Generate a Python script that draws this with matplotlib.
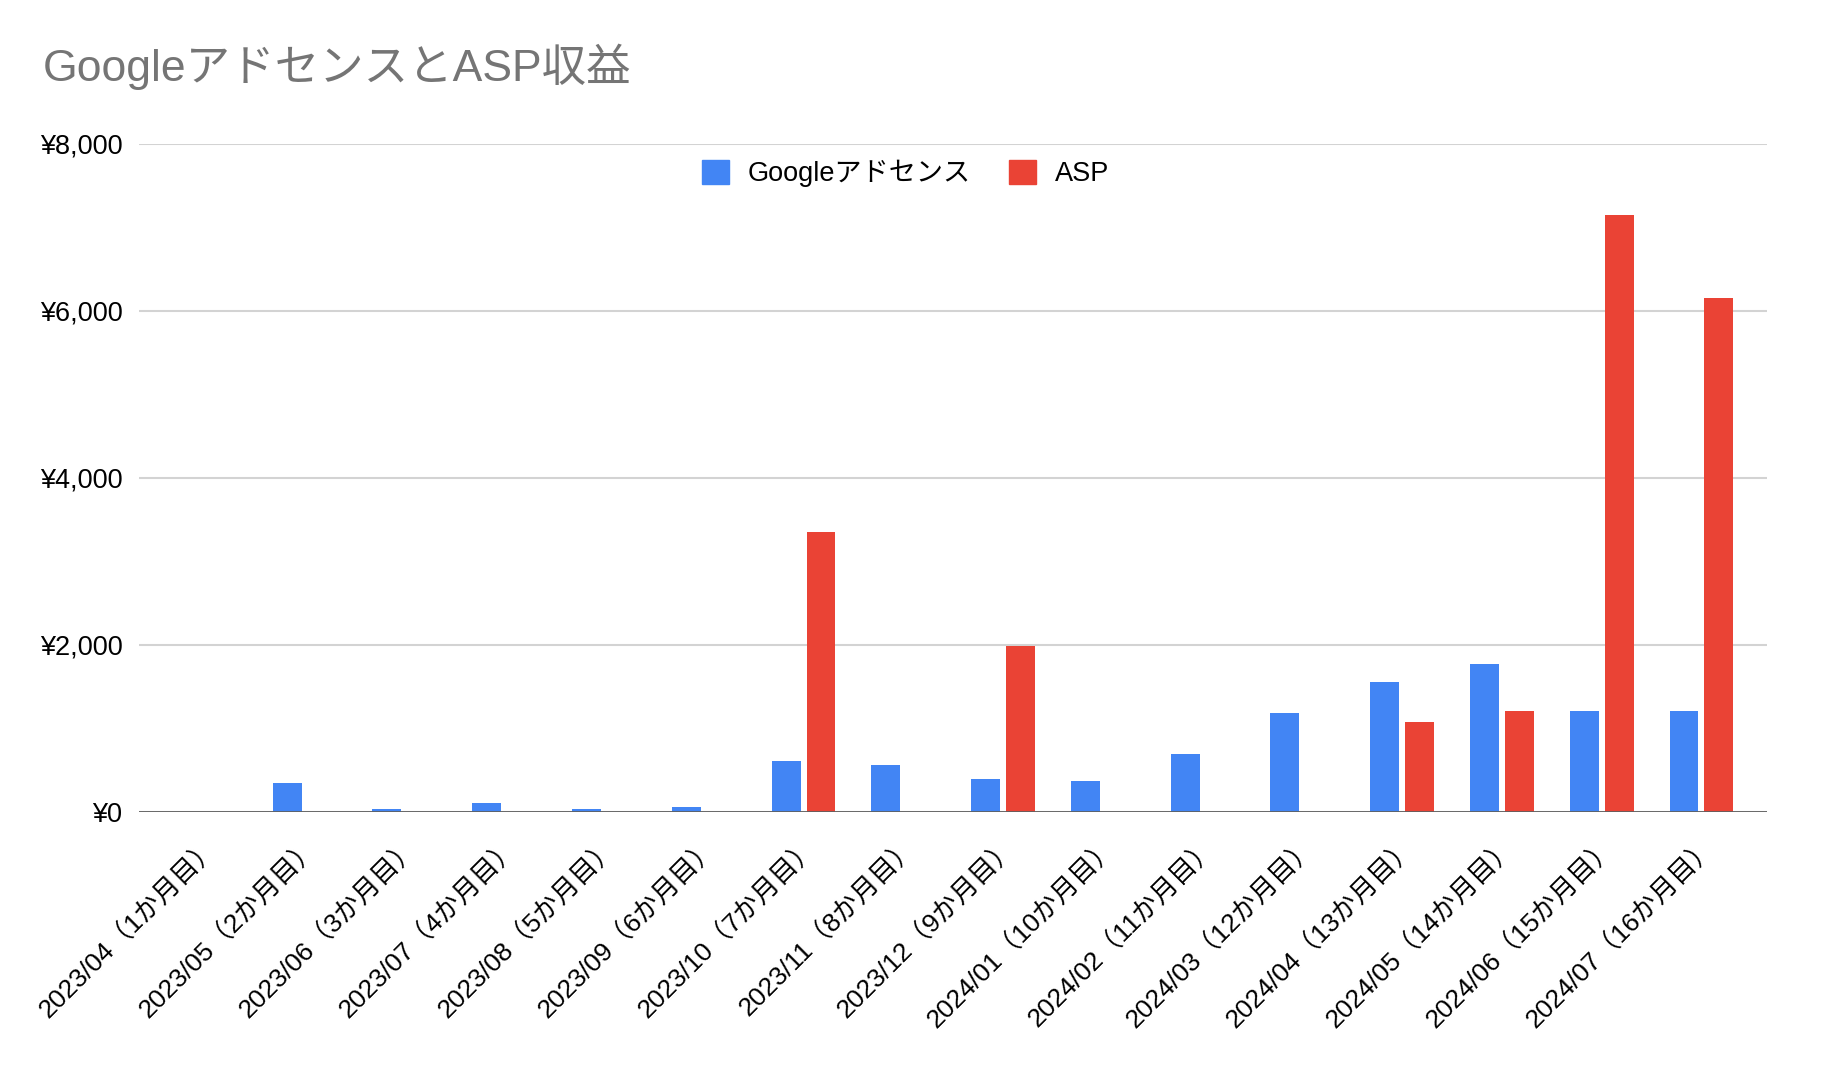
import numpy as np
import matplotlib
matplotlib.use('Agg')
import matplotlib.pyplot as plt
import matplotlib.transforms as mtransforms
from matplotlib.patches import Patch
from matplotlib.ticker import FuncFormatter

plt.rcParams['font.family'] = ['Liberation Sans', 'Noto Sans CJK JP', 'DejaVu Sans']

months = ['2023/04（1か月目）', '2023/05（2か月目）', '2023/06（3か月目）', '2023/07（4か月目）',
          '2023/08（5か月目）', '2023/09（6か月目）', '2023/10（7か月目）', '2023/11（8か月目）',
          '2023/12（9か月目）', '2024/01（10か月目）', '2024/02（11か月目）', '2024/03（12か月目）',
          '2024/04（13か月目）', '2024/05（14か月目）', '2024/06（15か月目）', '2024/07（16か月目）']
adsense = [0, 350, 30, 110, 30, 60, 615, 565, 400, 375, 695, 1185, 1555, 1770, 1210, 1210]
asp = [0, 0, 0, 0, 0, 0, 3350, 0, 1990, 0, 0, 0, 1075, 1210, 7150, 6160]
yticks = [0, 2000, 4000, 6000, 8000]

blue = '#4285F4'
red = '#EA4335'

fig = plt.figure(figsize=(18.22, 10.66), dpi=100)
ax = fig.add_axes([0.0763, 0.2383, 0.8937, 0.6267])

x = np.arange(len(months))
w = 0.29
ax.bar(x - 0.175, adsense, width=w, color=blue, zorder=3)
ax.bar(x + 0.175, asp, width=w, color=red, zorder=3)

ax.set_xlim(-0.66, len(months) - 0.34)
ax.set_ylim(0, 8000)
ax.set_yticks(yticks)
ax.yaxis.set_major_formatter(FuncFormatter(lambda v, p: f'¥{int(v):,}'))
ax.grid(axis='y', color='#d3d3d3', linewidth=1.5, zorder=0)
ax.axhline(0, color='#5f5f5f', linewidth=2, zorder=4)

ax.set_xticks(x)
ax.set_xticklabels(months, rotation=45, ha='right', va='center', rotation_mode='anchor')
ax.tick_params(axis='x', length=0, pad=22, labelsize=19)
ax.tick_params(axis='y', length=0, pad=12, labelsize=19.5)
shift = mtransforms.ScaledTranslation(10 / 100, 0, fig.dpi_scale_trans)
for lab in ax.get_xticklabels():
    lab.set_transform(lab.get_transform() + shift)
for s in ax.spines.values():
    s.set_visible(False)

fig.text(0.0236, 0.937, 'GoogleアドセンスとASP収益', fontsize=32, color='#757575', va='center', ha='left')

handles = [Patch(color=blue, label='Googleアドセンス'), Patch(color=red, label='ASP')]
fig.legend(handles=handles, loc='center', bbox_to_anchor=(0.497, 0.837), ncol=2, frameon=False,
           fontsize=19.5, handlelength=1.0, handleheight=1.0, handletextpad=0.7, columnspacing=1.4)

fig.savefig('out.png', dpi=100)
